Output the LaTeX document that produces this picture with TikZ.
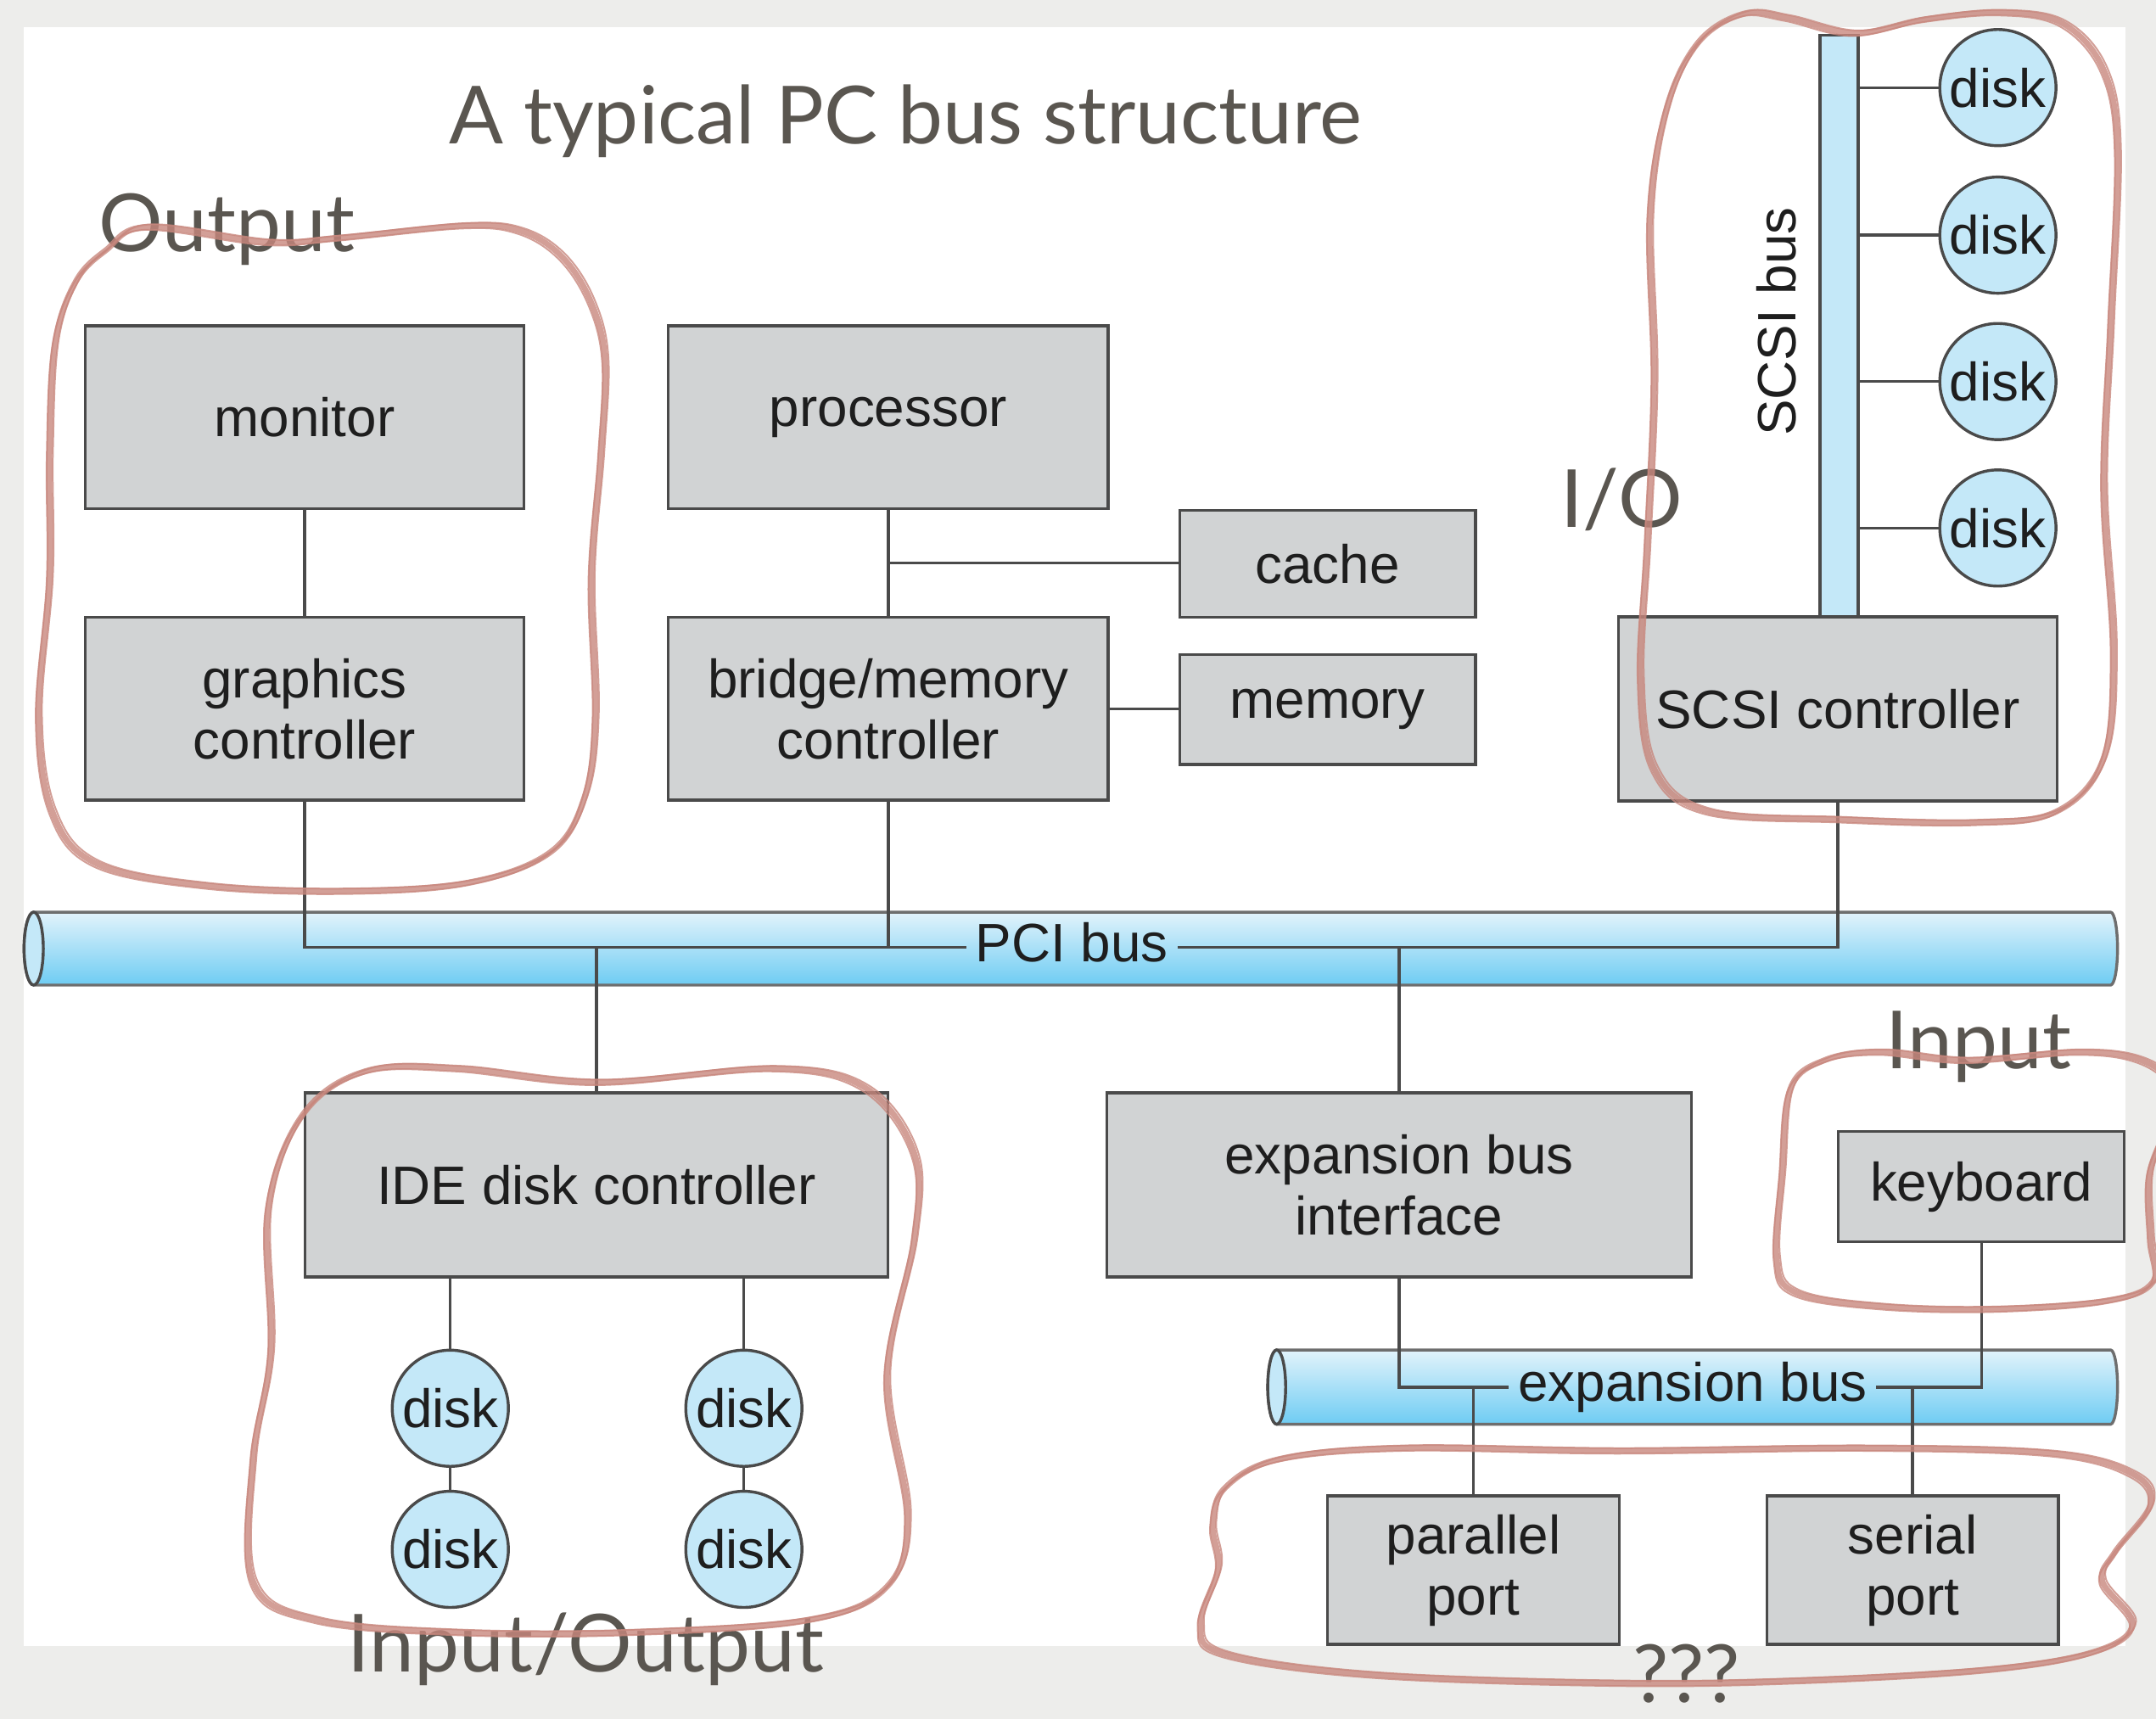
\documentclass[tikz,border=0pt]{standalone}
\usepackage{fontspec}
\setmainfont{Liberation Sans}
\newfontfamily\notefont{Lato}
\usepackage{tikz}
\usetikzlibrary{positioning,calc}
\definecolor{PageGrey}{HTML}{EDEDEB}
\definecolor{BoxGrey}{HTML}{D1D3D4}
\definecolor{EdgeGrey}{HTML}{4A4A4A}
\definecolor{DiskBlue}{HTML}{C4E8F8}
\definecolor{BusTop}{HTML}{E2F3FB}
\definecolor{BusBottom}{HTML}{6ECCF3}
\definecolor{LoopRed}{HTML}{C8877D}
\definecolor{NoteGrey}{HTML}{5A5650}
\definecolor{InkBlack}{HTML}{1E1E1E}

% hand drawn loop: one main stroke and two thin offset strokes
\newcommand\sketchloop[1]{%
  \draw[redloop] plot[smooth cycle, tension=.6] coordinates {#1};
  \draw[redloop, line width=.35pt, shift={(.025,.018)}] plot[smooth cycle, tension=.6] coordinates {#1};
  \draw[redloop, line width=.35pt, shift={(-.02,-.022)}] plot[smooth cycle, tension=.6] coordinates {#1};
}

\begin{document}
\begin{tikzpicture}[
    box/.style={
      draw=EdgeGrey,
      fill=BoxGrey,
      line width=.6pt,
      minimum width=3.2cm,
      minimum height=1.33cm,
      inner sep=0pt,
      align=center,
      text=InkBlack,
      font=\fontsize{11.2}{12.6}\selectfont
    },
    disk/.style={
      circle,
      draw=EdgeGrey,
      fill=DiskBlue,
      line width=.6pt,
      minimum size=.845cm,
      inner sep=0pt,
      text=InkBlack,
      font=\fontsize{11.2}{12.6}\selectfont
    },
    buslabel/.style={
      inner xsep=.06cm,
      inner ysep=0pt,
      text height=.29cm,
      text depth=.08cm,
      text=InkBlack,
      font=\fontsize{11.2}{12.6}\selectfont
    },
    bus/.style={
      draw=EdgeGrey!80,
      line width=.6pt,
      top color=BusTop,
      bottom color=BusBottom
    },
    wire/.style={
      draw=EdgeGrey,
      line width=.6pt
    },
    note/.style={
      anchor=base,
      inner sep=0pt,
      text=NoteGrey,
      font=\notefont\fontsize{16.6}{19}\selectfont
    },
    redloop/.style={
      draw=LoopRed,
      line width=1.2pt,
      opacity=.8,
      line cap=round
    }
  ]

  \useasboundingbox (0,0) rectangle (15.68,-12.50);
  \fill[PageGrey] (0,0) rectangle (15.68,-12.50);
  \fill[white] (0.17,-0.20) rectangle (15.46,-11.97);

  % buses
  \path[bus] (0.245,-6.634) -- (15.35,-6.634)
    arc[start angle=90, end angle=-90, x radius=.05, y radius=.265]
    -- (0.245,-7.164)
    arc[start angle=270, end angle=90, x radius=.07, y radius=.265] -- cycle;
  \draw[wire, fill=DiskBlue] (0.245,-6.899) ellipse [x radius=.07, y radius=.265];

  \path[bus] (9.285,-9.818) -- (15.35,-9.818)
    arc[start angle=90, end angle=-90, x radius=.05, y radius=.27]
    -- (9.285,-10.358)
    arc[start angle=270, end angle=90, x radius=.065, y radius=.27] -- cycle;
  \draw[wire, fill=DiskBlue] (9.285,-10.088) ellipse [x radius=.065, y radius=.27];

  \node[buslabel] (pcibus) at (7.796,-6.89) {PCI bus};
  \node[buslabel] (expbus) at (12.31,-10.088) {expansion bus};

  % upper row
  \node[box, minimum width=3.19cm] (monitor) at (2.215,-3.035) {monitor};
  \node[box, minimum width=3.19cm] (gfx)     at (2.215,-5.155) {graphics\\controller};
  \node[box] (cpu)    at (6.46,-3.035) {processor};
  \node[box] (bridge) at (6.46,-5.155) {bridge/memory\\controller};
  \node[box, minimum width=2.15cm, minimum height=.78cm] (cache)  at (9.655,-4.10) {cache};
  \node[box, minimum width=2.15cm, minimum height=.80cm] (memory) at (9.655,-5.16) {memory};

  \draw[wire] (monitor.south) -- (gfx.north);
  \draw[wire] (cpu.south) -- (bridge.north);
  \coordinate (cachejoin) at ($(cpu.south)!.5!(bridge.north)$);
  \draw[wire] (cachejoin) -- (cachejoin -| cache.west);
  \draw[wire] (bridge.east) -- (bridge.east -| memory.west);

  % SCSI side
  \node[box, minimum width=3.19cm, minimum height=1.34cm] (scsictl) at (13.365,-5.155) {SCSI controller};
  \node[draw=EdgeGrey, fill=DiskBlue, line width=.6pt, minimum width=.28cm,
        minimum height=4.23cm, inner sep=0pt] (scsibus) at (13.375,-2.371) {};
  \node[buslabel, rotate=90] (scsilabel) at (12.955,-2.34) {SCSI bus};
  \foreach \n/\y in {1/0.637, 2/1.71, 3/2.775, 4/3.84} {
    \node[disk] (sd\n) at (14.53,-\y) {disk};
    \draw[wire] (scsibus.east |- sd\n.west) -- (sd\n.west);
  }

  % PCI bus taps
  \draw[wire] (gfx.south) |- (pcibus.west);
  \draw[wire] (bridge.south) -- (bridge.south |- pcibus.west);
  \draw[wire] (scsictl.south) |- (pcibus.east);

  % lower row
  \node[box, minimum width=4.24cm, minimum height=1.34cm] (ide)   at (4.337,-8.617) {IDE disk controller};
  \node[box, minimum width=4.25cm, minimum height=1.34cm] (expif) at (10.175,-8.617) {expansion bus\\interface};
  \node[box, minimum width=2.08cm, minimum height=.80cm] (keyboard) at (14.41,-8.63) {keyboard};
  \node[box, minimum width=2.12cm, minimum height=1.08cm] (parallel) at (10.715,-11.42) {parallel\\port};
  \node[box, minimum width=2.12cm, minimum height=1.08cm] (serial)   at (13.91,-11.42) {serial\\port};

  \draw[wire] (ide.north) -- (ide.north |- pcibus.west);
  \draw[wire] (expif.north) -- (expif.north |- pcibus.east);

  \foreach \c/\x in {a/3.275, b/5.41} {
    \node[disk] (d\c1) at (\x,-10.242) {disk};
    \node[disk] (d\c2) at (\x,-11.268) {disk};
    \draw[wire] (ide.south -| d\c1.north) -- (d\c1.north);
    \draw[wire] (d\c1.south) -- (d\c2.north);
  }

  % expansion bus taps
  \draw[wire] (expif.south) |- (expbus.west);
  \draw[wire] (keyboard.south) |- (expbus.east);
  \draw[wire] (parallel.north) -- (parallel.north |- expbus.west);
  \draw[wire] (serial.north) -- (serial.north |- expbus.east);

  % notes
  \node[note] (title)  at (6.585,-1.044) {A typical PC bus structure};
  \node[note] (outlbl) at (1.65,-1.83)   {Output};
  \node[note] (iolbl)  at (11.795,-3.837) {I/O};
  \node[note] (inlbl)  at (14.39,-7.775) {Input};
  \node[note] (bothlbl) at (4.26,-12.16) {Input/Output};
  \node[note] (unklbl) at (12.265,-12.38) {???};

  % loops
  \sketchloop{(0.77,-1.82) (1.07,-1.65) (1.94,-1.76) (2.46,-1.73) (3.38,-1.64) (3.79,-1.68)
    (4.09,-1.87) (4.30,-2.20) (4.40,-2.62) (4.37,-3.30) (4.30,-4.20) (4.33,-5.20) (4.25,-5.80)
    (4.00,-6.20) (3.40,-6.42) (2.50,-6.48) (1.50,-6.44) (0.70,-6.28) (0.38,-5.90) (0.28,-5.20)
    (0.36,-4.20) (0.36,-3.30) (0.40,-2.50) (0.55,-2.05)}
  \sketchloop{(12.68,-0.10) (13.00,-0.13) (13.49,-0.24) (14.00,-0.14) (14.55,-0.09) (15.00,-0.17)
    (15.30,-0.51) (15.40,-1.10) (15.35,-2.36) (15.30,-3.54) (15.37,-4.72) (15.30,-5.51)
    (14.96,-5.90) (14.37,-5.98) (13.40,-5.96) (12.42,-5.90) (12.03,-5.59) (11.93,-4.92)
    (11.98,-3.94) (12.03,-2.75) (12.00,-1.57) (12.12,-0.79) (12.35,-0.31)}
  \sketchloop{(2.20,-8.11) (2.66,-7.79) (3.33,-7.77) (4.35,-7.87) (5.63,-7.77) (6.29,-7.91)
    (6.65,-8.39) (6.65,-9.00) (6.45,-10.01) (6.60,-11.02) (6.45,-11.54) (5.88,-11.78)
    (4.60,-11.87) (3.33,-11.87) (2.30,-11.78) (1.84,-11.50) (1.84,-10.61) (1.97,-9.81) (1.95,-8.79)}
  \sketchloop{(13.02,-7.92) (13.27,-7.71) (13.68,-7.65) (14.30,-7.71) (15.12,-7.65) (15.57,-7.71)
    (15.80,-7.90) (15.75,-8.20) (15.63,-8.55) (15.64,-9.00) (15.66,-9.32) (15.32,-9.46)
    (14.50,-9.52) (13.68,-9.50) (13.06,-9.40) (12.92,-9.15) (12.96,-8.53)}
  \sketchloop{(8.91,-10.82) (9.31,-10.61) (10.21,-10.53) (11.78,-10.55) (13.58,-10.53) (14.93,-10.57)
    (15.51,-10.72) (15.64,-10.94) (15.38,-11.29) (15.29,-11.50) (15.51,-11.81) (15.24,-12.01)
    (14.48,-12.14) (13.13,-12.22) (11.78,-12.24) (9.99,-12.18) (8.91,-12.03) (8.73,-11.81)
    (8.86,-11.40) (8.82,-11.09)}

\end{tikzpicture}
\end{document}
